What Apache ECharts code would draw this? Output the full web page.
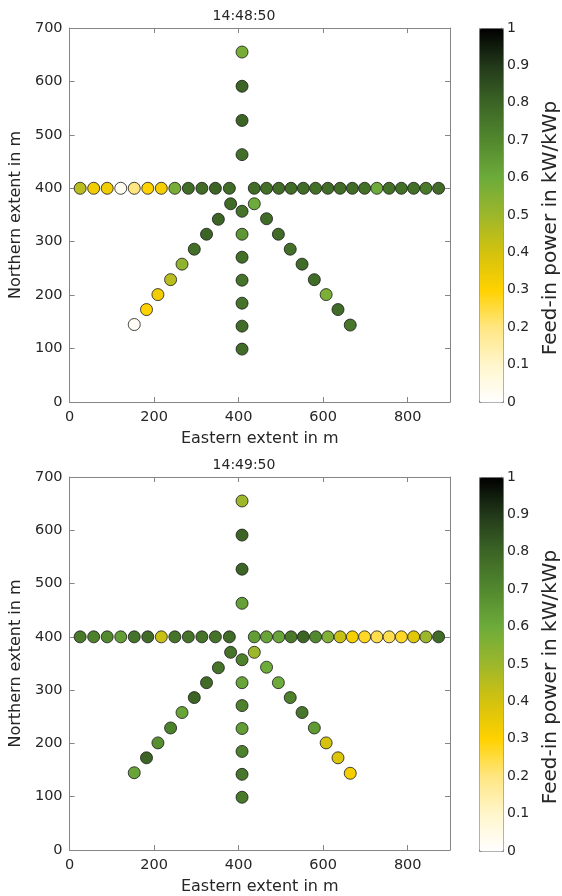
<!DOCTYPE html>
<html>
<head>
<meta charset="utf-8">
<script src="https://cdn.jsdelivr.net/npm/echarts@6/dist/echarts.min.js"></script>
<style>
  html, body { margin: 0; padding: 0; background: #ffffff; }
  #chart { width: 562px; height: 896px; }
</style>
</head>
<body>
<div id="chart"></div>
<script>
// Sensor layout (metres): a west–east row, a north–south column and two diagonals
const rowY = 400;
const rowWestX = [25, 57, 89, 121, 153, 185, 217, 249, 281, 313, 345, 378];
const rowEastX = [437, 466, 495, 524, 553, 582, 611, 640, 669, 698, 727, 756, 785, 814, 843, 873];
const columnX = 408;
const columnNorthY = [655, 591, 527, 463];
const columnSouthY = [357, 314, 271, 228, 185, 142, 99];
const diagWestX = [381, 352, 324, 295, 266, 239, 209, 182, 153];
const diagWestY = [371, 342, 314, 286, 258, 229, 201, 173, 145];
const diagEastX = [437, 466, 494, 522, 550, 579, 607, 635, 664];
const diagEastY = [371, 343, 314, 286, 258, 229, 201, 173, 144];

// Feed-in power (kW/kWp) per sensor, same order as the layout arrays
const timeA = '14:48:50';
const powerA_rowWest = [0.45, 0.33, 0.33, 0.03, 0.20, 0.30, 0.32, 0.58, 0.78, 0.78, 0.80, 0.78];
const powerA_rowEast = [0.78, 0.77, 0.78, 0.78, 0.78, 0.77, 0.78, 0.78, 0.78, 0.77, 0.60, 0.77, 0.77, 0.77, 0.74, 0.78];
const powerA_colNorth = [0.58, 0.80, 0.80, 0.77];
const powerA_colSouth = [0.76, 0.66, 0.77, 0.76, 0.76, 0.78, 0.78];
const powerA_diagWest = [0.78, 0.80, 0.80, 0.77, 0.53, 0.45, 0.33, 0.30, 0.02];
const powerA_diagEast = [0.60, 0.78, 0.78, 0.77, 0.78, 0.78, 0.57, 0.78, 0.75];

const timeB = '14:49:50';
const powerB_rowWest = [0.74, 0.72, 0.70, 0.64, 0.76, 0.78, 0.42, 0.76, 0.76, 0.76, 0.76, 0.78];
const powerB_rowEast = [0.64, 0.62, 0.62, 0.74, 0.80, 0.70, 0.56, 0.42, 0.32, 0.27, 0.24, 0.24, 0.27, 0.37, 0.50, 0.78];
const powerB_colNorth = [0.50, 0.80, 0.80, 0.63];
const powerB_colSouth = [0.72, 0.62, 0.72, 0.64, 0.72, 0.75, 0.74];
const powerB_diagWest = [0.76, 0.76, 0.78, 0.80, 0.62, 0.72, 0.68, 0.80, 0.62];
const powerB_diagEast = [0.50, 0.60, 0.60, 0.72, 0.75, 0.65, 0.40, 0.38, 0.32];

// Colormap from 0 to 1 in steps of 0.1
const colormap = ['#ffffff', '#fff6cc', '#ffe682', '#ffd200', '#d4c20e', '#9db72b',
                  '#6dab3a', '#52882e', '#3c6525', '#22391a', '#000000'];

const xTicks = [0, 200, 400, 600, 800];

function buildPoints(rowW, rowE, colN, colS, dW, dE) {
  const pts = [];
  rowWestX.forEach((x, i) => pts.push([x, rowY, rowW[i]]));
  rowEastX.forEach((x, i) => pts.push([x, rowY, rowE[i]]));
  columnNorthY.forEach((y, i) => pts.push([columnX, y, colN[i]]));
  columnSouthY.forEach((y, i) => pts.push([columnX, y, colS[i]]));
  diagWestX.forEach((x, i) => pts.push([x, diagWestY[i], dW[i]]));
  diagEastX.forEach((x, i) => pts.push([x, diagEastY[i], dE[i]]));
  return pts;
}

const pointsA = buildPoints(powerA_rowWest, powerA_rowEast, powerA_colNorth, powerA_colSouth, powerA_diagWest, powerA_diagEast);
const pointsB = buildPoints(powerB_rowWest, powerB_rowEast, powerB_colNorth, powerB_colSouth, powerB_diagWest, powerB_diagEast);

const FONT = 'DejaVu Sans';
const TXT = '#262626';
const AXC = '#858585';

const plotL = 66, plotW = 384, plotH = 374;
const topsPlot = [28, 477];
const barL = 479, barW = 24;

const grids = [];
const xAxes = [];
const yAxes = [];
const series = [];
const visualMaps = [];
const titles = [];

[[timeA, pointsA], [timeB, pointsB]].forEach(([time, pts], k) => {
  const top = topsPlot[k];
  const gi = grids.length;
  grids.push({ left: plotL, top: top, width: plotW, height: plotH, containLabel: false });
  const tickStyle = { show: true, inside: true, length: 5, lineStyle: { color: AXC, width: 1 } };
  const lineStyle = { show: true, onZero: false, lineStyle: { color: AXC, width: 1 } };
  // bottom and top x axes
  xAxes.push({
    gridIndex: gi, type: 'value', position: 'bottom', min: 0, max: 900, interval: 200,
    axisLine: lineStyle, axisTick: tickStyle, splitLine: { show: false },
    axisLabel: { color: TXT, fontFamily: FONT, fontSize: 14.5, margin: 8, showMaxLabel: false,
      formatter: v => (xTicks.indexOf(v) >= 0 ? String(v) : '') },
    name: 'Eastern extent in m', nameLocation: 'middle', nameGap: 29,
    nameTextStyle: { color: TXT, fontFamily: FONT, fontSize: 16 }
  });
  xAxes.push({
    gridIndex: gi, type: 'value', position: 'top', min: 0, max: 900, interval: 200,
    axisLine: lineStyle, axisTick: tickStyle, axisLabel: { show: false }, splitLine: { show: false }
  });
  yAxes.push({
    gridIndex: gi, type: 'value', position: 'left', min: 0, max: 700, interval: 100,
    axisLine: lineStyle, axisTick: tickStyle, splitLine: { show: false },
    axisLabel: { color: TXT, fontFamily: FONT, fontSize: 14.5, margin: 7 },
    name: 'Northern extent in m', nameLocation: 'middle', nameGap: 41,
    nameTextStyle: { color: TXT, fontFamily: FONT, fontSize: 16 }
  });
  yAxes.push({
    gridIndex: gi, type: 'value', position: 'right', min: 0, max: 700, interval: 100,
    axisLine: lineStyle, axisTick: tickStyle, axisLabel: { show: false }, splitLine: { show: false }
  });
  series.push({
    type: 'scatter', xAxisIndex: 2 * gi, yAxisIndex: 2 * gi, data: pts,
    symbol: 'circle', symbolSize: 12,
    itemStyle: { borderColor: 'rgba(25,25,25,0.8)', borderWidth: 1, opacity: 1 },
    emphasis: { disabled: true }
  });
  titles.push({
    text: time, left: 239, top: top - 24, textAlign: 'center',
    textStyle: { color: TXT, fontFamily: FONT, fontSize: 14, fontWeight: 'normal' }
  });
});

// colorbars, each with its own axis for the 0..1 scale
[0, 1].forEach(k => {
  const top = topsPlot[k];
  const gi = grids.length;
  grids.push({ left: barL, top: top, width: barW, height: plotH });
  xAxes.push({ gridIndex: gi, type: 'value', min: 0, max: 1, show: false });
  yAxes.push({
    gridIndex: gi, type: 'value', position: 'right', min: 0, max: 1, interval: 0.1,
    axisLine: { show: true, onZero: false, lineStyle: { color: AXC, width: 1 } },
    axisTick: { show: true, inside: true, length: 4, lineStyle: { color: AXC } },
    splitLine: { show: false },
    axisLabel: { color: TXT, fontFamily: FONT, fontSize: 14, margin: 6 },
    name: 'Feed-in power in kW/kWp', nameLocation: 'middle', nameGap: 40, nameRotate: 90,
    nameTextStyle: { color: TXT, fontFamily: FONT, fontSize: 20, padding: [0, 26, 0, 0] }
  });
  visualMaps.push({
    type: 'continuous', seriesIndex: k, dimension: 2, min: 0, max: 1,
    calculable: false, hoverLink: false, realtime: false,
    left: barL, top: top, itemWidth: barW, itemHeight: plotH, padding: 0,
    text: null, showLabel: false,
    borderColor: AXC, borderWidth: 1,
    inRange: { color: colormap }
  });
});

const chart = echarts.init(document.getElementById('chart'), null, { renderer: 'canvas' });
chart.setOption({
  animation: false,
  backgroundColor: '#ffffff',
  title: titles,
  grid: grids,
  xAxis: xAxes,
  yAxis: yAxes,
  visualMap: visualMaps,
  series: series
});
</script>
</body>
</html>
